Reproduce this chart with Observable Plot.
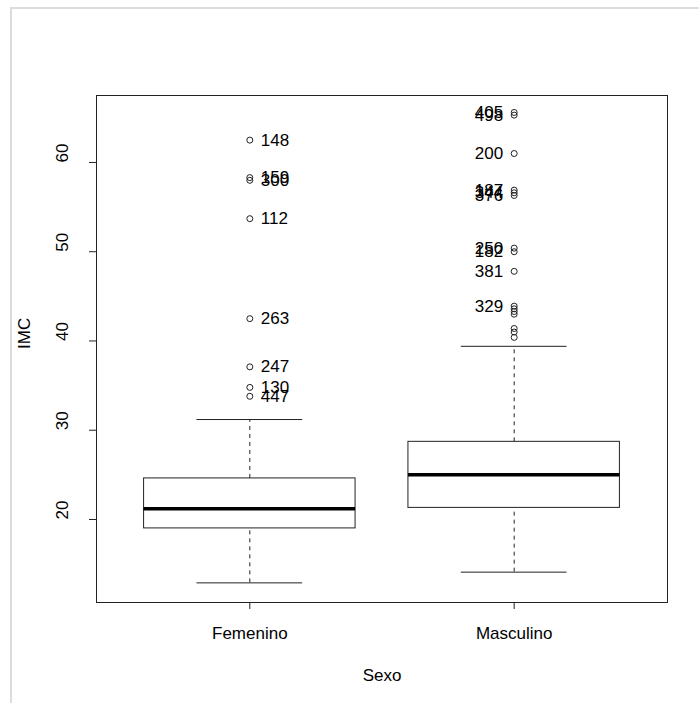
<!DOCTYPE html>
<html>
<head>
<meta charset="utf-8">
<script src="https://cdn.jsdelivr.net/npm/d3@7"></script>
<script src="https://cdn.jsdelivr.net/npm/@observablehq/plot@0.6"></script>
<style>
  html, body { margin: 0; padding: 0; background: white; }
  #wrap { position: relative; width: 699px; height: 703px; overflow: hidden; }
  #border { position: absolute; left: 10px; top: 7px; width: 690px; height: 700px;
            border-left: 2px solid #dcdcdc; border-top: 2px solid #dcdcdc; pointer-events: none; }
  #chart { position: absolute; left: 0; top: 0; }
</style>
</head>
<body>
<div id="wrap"><div id="chart"></div><div id="border"></div></div>
<script>
// Box statistics per group
const categories = ["Femenino", "Masculino"];
const lowerWhisker = [12.9, 14.1];
const q1 = [19.0, 21.3];
const median = [21.2, 25.0];
const q3 = [24.6, 28.7];
const upperWhisker = [31.2, 39.4];

// Outliers
const outlierGroup = [
  "Femenino","Femenino","Femenino","Femenino","Femenino","Femenino","Femenino","Femenino",
  "Masculino","Masculino","Masculino","Masculino","Masculino","Masculino","Masculino","Masculino",
  "Masculino","Masculino","Masculino","Masculino","Masculino","Masculino","Masculino","Masculino"
];
const outlierIMC = [
  62.5, 58.3, 58.0, 53.7, 42.5, 37.1, 34.8, 33.8,
  65.6, 65.3, 61.0, 56.9, 56.6, 56.3, 50.4, 50.0, 47.8, 43.9, 43.6, 43.3, 43.0, 41.4, 41.0, 40.4
];
const outlierLabel = [
  "148", "159", "300", "112", "263", "247", "130", "447",
  "405", "498", "200", "187", "344", "376", "250", "182", "381", "329", "", "", "", "", "", ""
];

const yTicks = [20, 30, 40, 50, 60];
const xLabel = "Sexo";
const yLabel = "IMC";

const boxes = categories.map((c, i) => ({
  cat: c, pos: i + 1,
  lo: lowerWhisker[i], q1: q1[i], med: median[i], q3: q3[i], hi: upperWhisker[i]
}));
const outliers = outlierIMC.map((v, i) => ({
  cat: outlierGroup[i], pos: categories.indexOf(outlierGroup[i]) + 1, v, label: outlierLabel[i]
}));
const fem = outliers.filter(d => d.pos === 1);
const masc = outliers.filter(d => d.pos === 2);

const ink = "#222";
const fontFamily = "'Liberation Sans', Arial, sans-serif";
const fs = 17;

const chart = Plot.plot({
  width: 699,
  height: 703,
  marginLeft: 96,
  marginRight: 32,
  marginTop: 95,
  marginBottom: 101,
  x: { domain: [0.42, 2.58] },
  y: { domain: [10.7, 67.5] },
  style: { fontFamily, fontSize: fs + "px", color: "#000", background: "white" },
  marks: [
    // whiskers
    Plot.ruleX(boxes, { x: "pos", y1: "q3", y2: "hi", stroke: ink, strokeDasharray: "4,4" }),
    Plot.ruleX(boxes, { x: "pos", y1: "lo", y2: "q1", stroke: ink, strokeDasharray: "4,4" }),
    // caps
    Plot.ruleY(boxes, { y: "hi", x1: d => d.pos - 0.2, x2: d => d.pos + 0.2, stroke: ink }),
    Plot.ruleY(boxes, { y: "lo", x1: d => d.pos - 0.2, x2: d => d.pos + 0.2, stroke: ink }),
    // boxes
    Plot.rect(boxes, { x1: d => d.pos - 0.4, x2: d => d.pos + 0.4, y1: "q1", y2: "q3", fill: "white", stroke: ink }),
    // medians
    Plot.ruleY(boxes, { y: "med", x1: d => d.pos - 0.4, x2: d => d.pos + 0.4, stroke: "#000", strokeWidth: 3.5 }),
    // outliers
    Plot.dot(outliers, { x: "pos", y: "v", r: 3, stroke: ink, strokeWidth: 1, fill: "none" }),
    Plot.text(fem, { x: "pos", y: "v", text: "label", dx: 11, textAnchor: "start", fontSize: fs, fill: "#000" }),
    Plot.text(masc, { x: "pos", y: "v", text: "label", dx: -11, textAnchor: "end", fontSize: fs, fill: "#000" }),
    // axes ticks
    Plot.axisY({ ticks: yTicks, tickSize: 7, tickFormat: () => "", label: null, stroke: ink }),
    Plot.axisX({ ticks: [1, 2], tickSize: 7, tickFormat: () => "", label: null, stroke: ink }),
    // tick labels
    Plot.text(yTicks, { y: d => d, text: d => String(d), frameAnchor: "left", dx: -34, rotate: -90, fontSize: fs, fill: "#000" }),
    Plot.text(categories, { x: (d, i) => i + 1, text: d => d, frameAnchor: "bottom", dy: 36, fontSize: fs, fill: "#000" }),
    // axis titles
    Plot.text([yLabel], { text: d => d, frameAnchor: "left", dx: -72, rotate: -90, fontSize: fs, fill: "#000" }),
    Plot.text([xLabel], { text: d => d, frameAnchor: "bottom", dy: 78, fontSize: fs, fill: "#000" }),
    Plot.frame({ stroke: ink, strokeWidth: 1 })
  ]
});
document.getElementById("chart").appendChild(chart);
</script>
</body>
</html>
